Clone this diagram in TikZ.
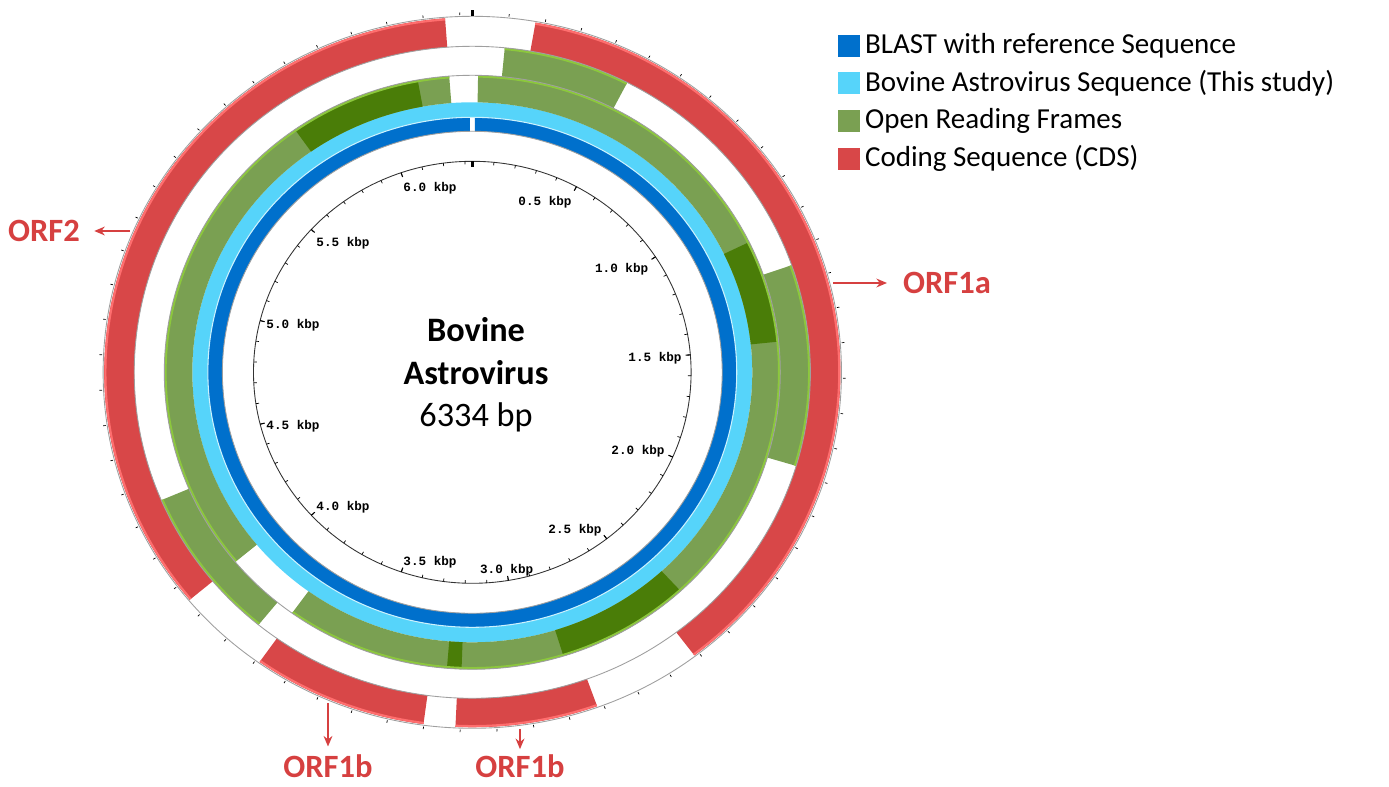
\documentclass[tikz,border=0pt]{standalone}
\usepackage{fontspec}
\setmainfont{Carlito}
\newfontfamily\kbpfont{Liberation Mono}
\usepackage{tikz}
\usetikzlibrary{arrows.meta,positioning}

\definecolor{blast}{RGB}{0,112,204}
\definecolor{seqblue}{RGB}{86,212,250}
\definecolor{orfgreen}{RGB}{122,160,82}
\definecolor{orfdark}{RGB}{74,125,8}
\definecolor{orfedge}{RGB}{140,200,60}
\definecolor{cdsred}{RGB}{216,71,72}
\definecolor{cdsedge}{RGB}{255,110,110}
\definecolor{orflabel}{RGB}{214,64,64}

\tikzset{
    every node/.style={font=\fontsize{16.5}{20}\selectfont},
    legbox/.style={minimum size=0.44cm, inner sep=0pt},
    kbp/.style={font=\kbpfont\bfseries\fontsize{7.2}{8}\selectfont, inner sep=0pt},
    orf/.style={font=\bfseries\fontsize{18.5}{22}\selectfont, text=orflabel, inner sep=0pt},
    orfarrow/.style={draw=orflabel, line width=1pt, -{Stealth[length=6pt,width=5pt]}},
    backbone/.style={gray!75, line width=0.5pt}
}

\begin{document}
\begin{tikzpicture}[x=0.02cm, y=0.02cm]

    \useasboundingbox (-472.3,-414.7) rectangle (916.7,372.3);

    \begin{scope}[xscale=1.037]
    % sequence ring
    \fill[seqblue, even odd rule] (0,0) circle[radius=270] (0,0) circle[radius=255];

    % blast hit, orfs and cds
    \foreach \ri/\ro/\a/\b/\col in {241/255/10/6324/blast,
        270/297/19/3797/orfgreen, 270/297/4052/6258/orfgreen,
        270/297/1126/1479/orfdark, 270/297/2418/2864/orfdark,
        270/297/3202/3250/orfdark, 270/297/5715/6154/orfdark,
        297/326/97/480/orfgreen, 297/326/1246/1877/orfgreen, 297/326/3857/4344/orfgreen,
        326/355/174/2514/cdsred, 326/355/2818/3213/cdsred,
        326/355/3301/3788/cdsred, 326/355/4049/6259/cdsred}
        \fill[\col] ({90-\a*0.056836}:\ro) arc[start angle={90-\a*0.056836}, end angle={90-\b*0.056836}, radius=\ro]
            -- ({90-\b*0.056836}:\ri) arc[start angle={90-\b*0.056836}, end angle={90-\a*0.056836}, radius=\ri] -- cycle;

    % light outer edges
    \foreach \ro/\a/\b/\col in {297/19/3797/orfedge, 297/4052/6258/orfedge,
        326/97/480/orfedge, 326/1246/1877/orfedge, 326/3857/4344/orfedge,
        355/174/2514/cdsedge, 355/2818/3213/cdsedge, 355/3301/3788/cdsedge, 355/4049/6259/cdsedge}
        \draw[\col, line width=1.2pt] ({90-\a*0.056836}:{\ro-1.2}) arc[start angle={90-\a*0.056836}, end angle={90-\b*0.056836}, radius={\ro-1.2}];

    \draw[white!70!seqblue, line width=0.6pt] (0,0) circle[radius=255];
    \foreach \r in {241,297,326,356}
        \draw[backbone] (0,0) circle[radius=\r];

    % scale circle and ticks
    \draw[black!80, line width=0.5pt] (0,0) circle[radius=211];
    \foreach \i in {0,...,63} {
        \draw[line width=0.4pt] ({90-\i*5.6836}:211) -- ({90-\i*5.6836}:208);
        \draw[line width=0.4pt] ({90-\i*5.6836}:357.5) -- ({90-\i*5.6836}:360);
    }
    \foreach \i in {5,10,...,60}
        \draw[line width=0.6pt] ({90-\i*5.6836}:211) -- ({90-\i*5.6836}:206.5);
    \draw[line width=1.4pt] (0,211) -- (0,205);
    \draw[line width=1.4pt] (0,356) -- (0,362);
    \end{scope}

    % kbp labels
    \foreach \t/\x/\y [count=\k] in {0.5/72.7/170.3, 1.0/149.4/103.3, 1.5/182.7/14.3,
        2.0/165.7/-78.7, 2.5/102.7/-157.7, 3.0/34.4/-198.4, 3.5/-42.3/-189.7,
        4.0/-129.3/-134.7, 4.5/-179.3/-53.7, 5.0/-179.3/47.3, 5.5/-129.3/129.3, 6.0/-42.3/184.3}
        \node[kbp] (tick\k) at (\x,\y) {\t\ kbp};

    \node[align=center, font=\fontsize{19.5}{24.2}\selectfont] (title) at (3.7,-2.7)
        {\textbf{Bovine}\\\textbf{Astrovirus}\\6334 bp};

    % legend
    \foreach \col/\txt [count=\k] in {blast/BLAST with reference Sequence,
        seqblue/Bovine Astrovirus Sequence (This study),
        orfgreen/Open Reading Frames, cdsred/Coding Sequence (CDS)} {
        \node[legbox, fill=\col] (key\k) at (376.7,{364-37.6*\k}) {};
        \node[right=2.5pt of key\k, inner sep=0pt] (leg\k) {\txt};
    }

    % orf labels
    \node[orf] (orf2) at (-428.3,141.3) {ORF2};
    \coordinate (orf2tail) at (-342.3,141.3);
    \draw[orfarrow, shorten >=8pt] (orf2tail) -- (orf2);

    \node[orf] (orf1a) at (474.7,89.3) {ORF1a};
    \coordinate (orf1atail) at (360.7,89.3);
    \draw[orfarrow, shorten >=9pt] (orf1atail) -- (orf1a);

    \node[orf] (orf1bl) at (-144.3,-394) {ORF1b};
    \coordinate (orf1bltail) at (-144.3,-330.7);
    \draw[orfarrow, shorten >=4.5pt] (orf1bltail) -- (orf1bl);

    \node[orf] (orf1br) at (47.7,-394) {ORF1b};
    \coordinate (orf1brtail) at (47.7,-356.7);
    \draw[orfarrow, shorten >=3pt] (orf1brtail) -- (orf1br);

\end{tikzpicture}
\end{document}
